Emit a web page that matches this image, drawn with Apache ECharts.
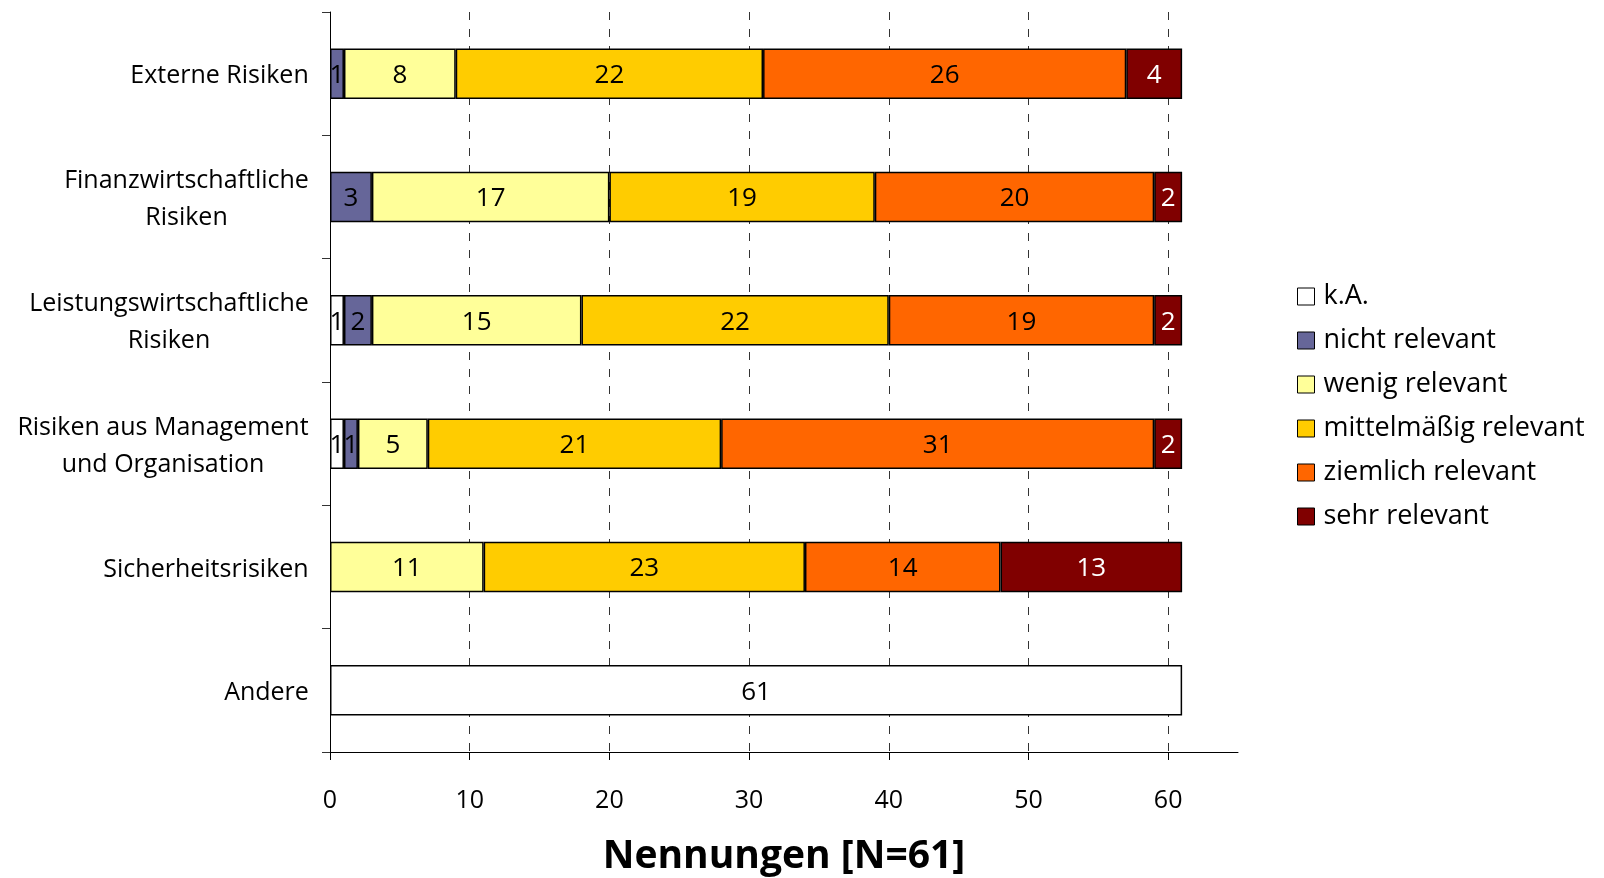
<!DOCTYPE html>
<html>
<head>
<meta charset="utf-8">
<script src="https://cdn.jsdelivr.net/npm/echarts@6/dist/echarts.min.js"></script>
<style>
  html, body { margin: 0; padding: 0; background: #fff; }
  #chart { width: 1604px; height: 878px; }
</style>
</head>
<body>
<div id="chart"></div>
<script>
// Risk categories (top to bottom) and answer counts per relevance level
const categories = [
  'Externe Risiken',
  'Finanzwirtschaftliche\nRisiken',
  'Leistungswirtschaftliche\nRisiken',
  'Risiken aus Management\nund Organisation',
  'Sicherheitsrisiken',
  'Andere'
];
const seriesNames = ['k.A.', 'nicht relevant', 'wenig relevant', 'mittelmäßig relevant', 'ziemlich relevant', 'sehr relevant'];
const kA               = [null, null, 1, 1, null, 61];
const nichtRelevant    = [1, 3, 2, 1, null, null];
const wenigRelevant    = [8, 17, 15, 5, 11, null];
const mittelRelevant   = [22, 19, 22, 21, 23, null];
const ziemlichRelevant = [26, 20, 19, 31, 14, null];
const sehrRelevant     = [4, 2, 2, 2, 13, null];
const xTickValues = [0, 10, 20, 30, 40, 50, 60];
const gridValues = [10, 20, 30, 40, 50, 60];
const axisTitle = 'Nennungen [N=61]';

const seriesValues = [kA, nichtRelevant, wenigRelevant, mittelRelevant, ziemlichRelevant, sehrRelevant];
const colors = ['#ffffff', '#666699', '#ffff99', '#ffcc00', '#ff6600', '#800000'];
const labelColors = ['#000', '#000', '#000', '#000', '#000', '#fff'];

const FONT = '"Open Sans", "Noto Sans", sans-serif';
const catFontSize = 25;

// Each multi-line category label is centred on its own widest line
const measureCtx = document.createElement('canvas').getContext('2d');
measureCtx.font = catFontSize + 'px ' + FONT;
const rich = {};
categories.forEach((c, i) => {
  const w = Math.max(...c.split('\n').map(l => measureCtx.measureText(l).width));
  rich['r' + i] = { width: Math.ceil(w) + 2, align: 'center', fontSize: catFontSize, fontFamily: FONT, color: '#000', lineHeight: 37 };
});

const chart = echarts.init(document.getElementById('chart'), null, { renderer: 'canvas' });

const barSeries = seriesNames.map((name, i) => ({
  name: name,
  type: 'bar',
  stack: 'total',
  z: 3,
  barWidth: '41%',
  data: seriesValues[i],
  itemStyle: { color: colors[i], borderColor: '#000', borderWidth: 1.5 },
  label: {
    show: true,
    position: 'inside',
    offset: [0, 2],
    color: labelColors[i],
    fontSize: 26,
    fontFamily: FONT
  },
  emphasis: { disabled: true }
}));

// Dashed vertical reference lines, kept behind the bars
const gridSeries = {
  name: 'grid',
  type: 'line',
  data: [],
  z: 1,
  silent: true,
  markLine: {
    z: 1,
    silent: true,
    symbol: ['none', 'none'],
    label: { show: false },
    lineStyle: { color: '#333', width: 1, type: [8, 9] },
    data: gridValues.map(v => ({ xAxis: v }))
  }
};

chart.setOption({
  animation: false,
  backgroundColor: '#fff',
  grid: { left: 330, right: 366, top: 12, bottom: 126, containLabel: false, outerBoundsMode: 'none' },
  legend: {
    orient: 'vertical',
    left: 1292,
    top: 278,
    itemWidth: 17,
    itemHeight: 17,
    itemGap: 17,
    icon: 'rect',
    data: seriesNames,
    selectedMode: false,
    textStyle: { fontSize: 27, fontFamily: FONT, color: '#000', padding: [0, 0, 0, 4] },
    itemStyle: { borderColor: '#000', borderWidth: 1 }
  },
  xAxis: {
    type: 'value',
    min: 0,
    max: 65,
    interval: 10,
    name: axisTitle,
    nameLocation: 'middle',
    nameGap: 85,
    nameTextStyle: { fontSize: 39, fontWeight: 'bold', fontFamily: FONT, color: '#000' },
    axisLine: { show: true, lineStyle: { color: '#000', width: 1 } },
    axisTick: { show: true, length: 8, lineStyle: { color: '#000' }, customValues: xTickValues },
    axisLabel: { fontSize: 25, fontFamily: FONT, color: '#000', margin: 36, customValues: xTickValues },
    splitLine: { show: false }
  },
  yAxis: {
    type: 'category',
    inverse: true,
    data: categories,
    axisLine: { show: true, lineStyle: { color: '#000', width: 1 } },
    axisTick: { show: true, length: 8, lineStyle: { color: '#333' } },
    axisLabel: {
      margin: 20,
      padding: [5, 0, 0, 0],
      formatter: (value, index) => value.split('\n').map(l => '{r' + index + '|' + l + '}').join('\n'),
      rich: rich
    },
    splitLine: { show: false }
  },
  series: barSeries.concat([gridSeries])
});
</script>
</body>
</html>
